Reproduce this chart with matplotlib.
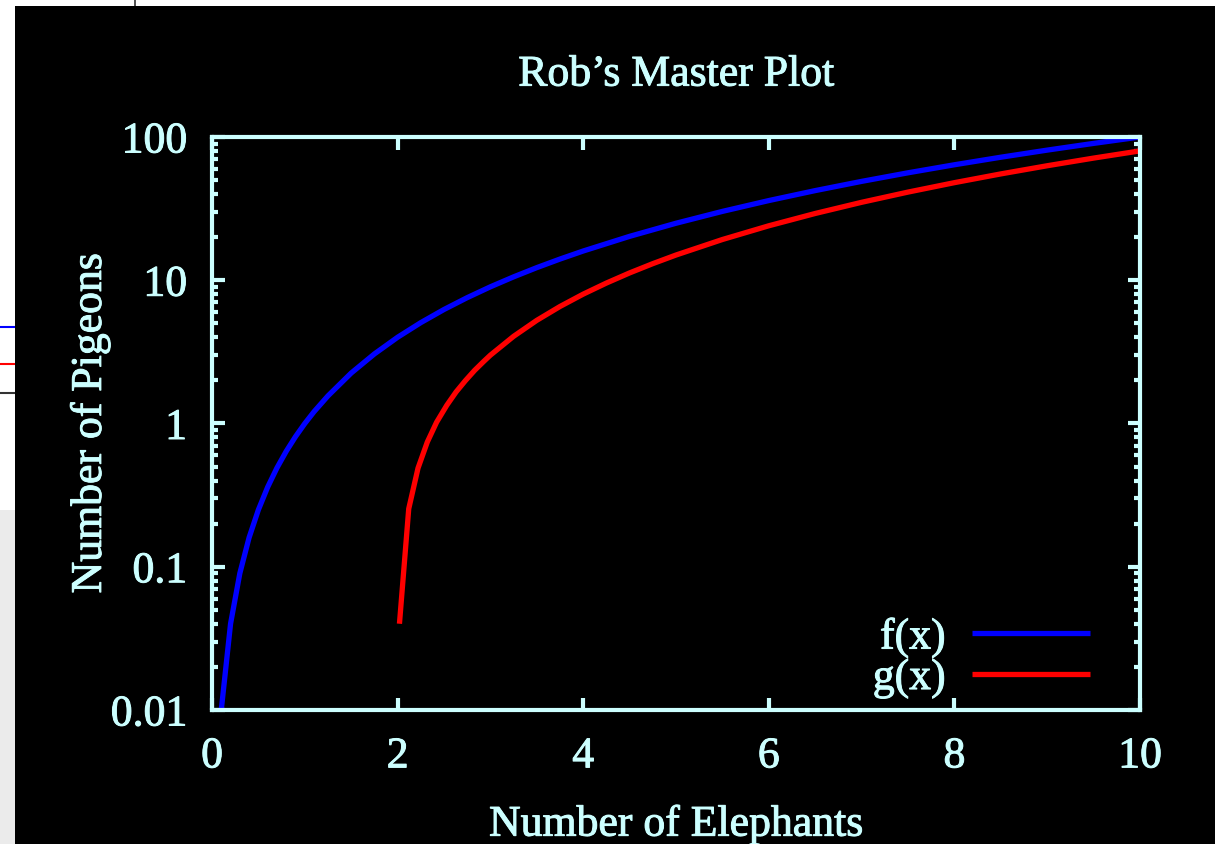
#!/usr/bin/env python3
"""
Rob's Master Plot: 黒背景・対数縦軸の2曲線
"""

import matplotlib
matplotlib.use("Agg")
import matplotlib.pyplot as plt
import matplotlib.patheffects as pe
from matplotlib.patches import Rectangle
from matplotlib.lines import Line2D
from matplotlib.ticker import LogLocator, FixedLocator, NullLocator

# ── データ ──
f_x = [0.1, 0.2, 0.3, 0.4, 0.5, 0.6, 0.7, 0.8, 0.9, 1.0, 1.1, 1.25, 1.5, 1.75,
       2.0, 2.25, 2.5, 2.75, 3.0, 3.25, 3.5, 3.75, 4.0, 4.5, 5.0, 5.5, 6.0,
       6.5, 7.0, 7.5, 8.0, 8.5, 9.0, 9.5, 10.0]
f_y = [0.01, 0.04, 0.09, 0.16, 0.25, 0.36, 0.49, 0.64, 0.81, 1.0, 1.21, 1.56,
       2.25, 3.06, 4.0, 5.06, 6.25, 7.56, 9.0, 10.56, 12.25, 14.06, 16.0, 20.25,
       25.0, 30.25, 36.0, 42.25, 49.0, 56.25, 64.0, 72.25, 81.0, 90.25, 100.0]

g_x = [2.02, 2.12, 2.22, 2.32, 2.42, 2.53, 2.63, 2.73, 2.83, 2.93, 3.0, 3.25,
       3.5, 3.75, 4.0, 4.25, 4.5, 4.75, 5.0, 5.5, 6.0, 6.5, 7.0, 7.5, 8.0,
       8.5, 9.0, 9.5, 10.0]
g_y = [0.04, 0.254, 0.488, 0.742, 1.02, 1.34, 1.66, 1.99, 2.35, 2.72, 3.0,
       4.06, 5.25, 6.56, 8.0, 9.56, 11.25, 13.06, 15.0, 19.25, 24.0, 29.25,
       35.0, 41.25, 48.0, 55.25, 63.0, 71.25, 80.0]

x_ticks = [0, 2, 4, 6, 8, 10]
y_ticks = [0.01, 0.1, 1, 10, 100]
y_tick_labels = ["0.01", "0.1", "1", "10", "100"]

TITLE = "Rob\u2019s Master Plot"
X_LABEL = "Number of Elephants"
Y_LABEL = "Number of Pigeons"

# ── スタイル ──
FG = "#ccffff"
FONT = "Liberation Serif"
FS = 31.5
W, H = 1215, 844
plt.rcParams["font.family"] = [FONT, "DejaVu Serif"]
# 文字を少し太らせる
THICK = [pe.withStroke(linewidth=0.7, foreground=FG)]


def main():
    fig = plt.figure(figsize=(W / 100, H / 100), dpi=100, facecolor="white")

    # スクリーンショット周囲の背景
    fig.patches.append(Rectangle((0, 0), 15 / W, (844 - 510) / H,
                                 transform=fig.transFigure, facecolor="#ebebeb",
                                 edgecolor="none", zorder=-2))
    fig.patches.append(Rectangle((15 / W, 0), 1 - 15 / W, 1 - 6 / H,
                                 transform=fig.transFigure, facecolor="black",
                                 edgecolor="none", zorder=-1))
    for yy, col in [(327, "blue"), (364, "red"), (393, "#333333")]:
        fig.add_artist(Line2D([0, 15 / W], [1 - yy / H] * 2, color=col, lw=1.5,
                              transform=fig.transFigure, zorder=-1))
    fig.add_artist(Line2D([135 / W] * 2, [1 - 6 / H, 1], color="#333333", lw=1.2,
                          transform=fig.transFigure, zorder=-1))

    ax = fig.add_axes([212 / W, 1 - 710 / H, (1140 - 212) / W, (710 - 137) / H])
    ax.set_facecolor("black")

    ax.plot(f_x, f_y, color="#0000ff", lw=3.8, label="f(x)", solid_capstyle="butt")
    ax.plot(g_x, g_y, color="#ff0000", lw=3.8, label="g(x)", solid_capstyle="butt")

    ax.set_yscale("log")
    ax.set_xlim(0, 10)
    ax.set_ylim(0.01, 100)

    ax.xaxis.set_major_locator(FixedLocator(x_ticks))
    ax.xaxis.set_minor_locator(NullLocator())
    ax.set_xticklabels([str(v) for v in x_ticks])
    ax.yaxis.set_major_locator(FixedLocator(y_ticks))
    ax.set_yticklabels(y_tick_labels)
    ax.yaxis.set_minor_locator(LogLocator(base=10, subs=range(2, 10)))
    ax.yaxis.set_minor_formatter(plt.NullFormatter())

    ax.tick_params(which="both", direction="in", top=True, right=True,
                   color=FG, labelcolor=FG, labelsize=FS, width=3)
    ax.tick_params(which="major", length=9)
    ax.tick_params(which="minor", length=4.5)
    ax.tick_params(axis="x", pad=19)
    ax.tick_params(axis="y", pad=18)

    for sp in ax.spines.values():
        sp.set_color(FG)
        sp.set_linewidth(3)

    ax.set_title(TITLE, color=FG, fontsize=FS, pad=37, path_effects=THICK)
    ax.set_xlabel(X_LABEL, color=FG, fontsize=FS, labelpad=20, path_effects=THICK)
    ax.set_ylabel(Y_LABEL, color=FG, fontsize=FS, path_effects=THICK)
    ax.yaxis.set_label_coords(-0.11, 0.5)

    leg = ax.legend(loc="lower right", bbox_to_anchor=(0.946, 0.02),
                    frameon=False, markerfirst=False, fontsize=FS,
                    handlelength=2.7, handletextpad=0.6, labelspacing=0.0,
                    borderpad=0, borderaxespad=0)
    for t in leg.get_texts():
        t.set_color(FG)
        t.set_path_effects(THICK)
    for t in ax.get_xticklabels() + ax.get_yticklabels():
        t.set_path_effects(THICK)

    fig.savefig("out.png", dpi=100, facecolor=fig.get_facecolor())


if __name__ == "__main__":
    main()
